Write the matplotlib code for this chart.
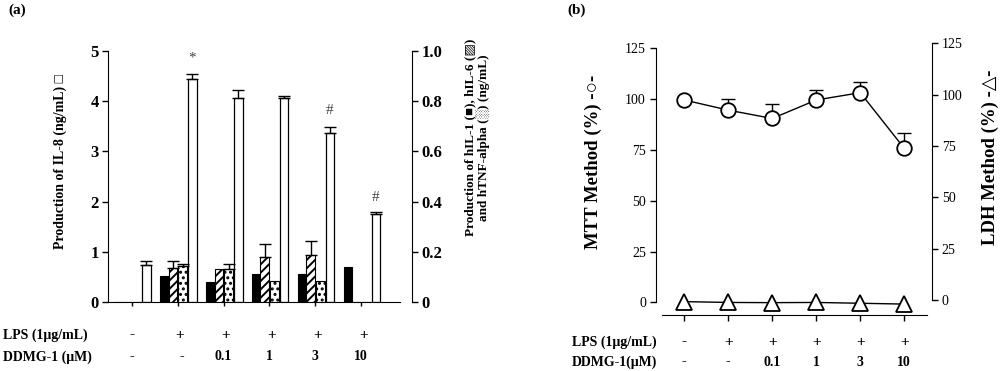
import numpy as np
import matplotlib
matplotlib.use("Agg")
import matplotlib.pyplot as plt
from matplotlib.transforms import blended_transform_factory

plt.rcParams['font.family'] = ['Liberation Serif', 'DejaVu Sans']
plt.rcParams['hatch.linewidth'] = 1.4

# ---- data, panel (a) ----
lps_labels = ['-', '+', '+', '+', '+', '+']
ddmg_labels = ['-', '-', '0.1', '1', '3', '10']

il8 = [0.74, 4.44, 4.06, 4.06, 3.36, 1.75]          # ng/mL, left axis
il8_err = [0.08, 0.09, 0.17, 0.05, 0.13, 0.05]
il1 = [0.0, 0.105, 0.080, 0.113, 0.113, 0.142]       # ng/mL, right axis
il6 = [0.0, 0.137, 0.131, 0.181, 0.188, 0.0]
il6_err = [0, 0.027, 0, 0.051, 0.056, 0]
tnf = [0.0, 0.146, 0.131, 0.085, 0.085, 0.0]
tnf_err = [0, 0.006, 0.022, 0, 0, 0]
marks = {1: ('*', 4.85), 4: ('#', 3.82), 5: ('#', 2.09)}

# ---- data, panel (b) ----
mtt = [99.6, 94.6, 90.5, 99.6, 103.2, 75.8]          # %, left axis
mtt_err = [0, 5.3, 7.1, 4.9, 5.4, 7.4]
ldh = [-0.8, -1.2, -1.3, -1.2, -1.6, -2.0]           # %, right axis


def upper_err(ax, x, y, err, capsize, color='black'):
    # only the upper half of the error bar is drawn in the figure
    x = np.asarray(x, float)
    y = np.asarray(y, float)
    err = np.asarray(err, float)
    keep = err > 0
    ax.errorbar(x[keep], y[keep], yerr=[np.zeros(keep.sum()), err[keep]],
                fmt='none', ecolor=color, elinewidth=1.0, capsize=capsize,
                capthick=1.0, zorder=3)


fig = plt.figure(figsize=(10, 3.71), dpi=100)
bold = dict(fontweight='bold')

# ================= panel (a) =================
ax = fig.add_axes([0.1083, 0.1852, 0.3034, 0.6935])
ax2 = ax.twinx()
x = np.arange(len(il8))
w = 0.19
off = [-0.29, -0.10, 0.11, 0.32]

ax2.bar(x + off[0], il1, w, color='black', edgecolor='black', linewidth=0.8)
ax2.bar(x + off[1], il6, w, color='white', edgecolor='black', linewidth=0.8, hatch='////')
ax2.bar(x + off[2], tnf, w, color='white', edgecolor='black', linewidth=0.8, hatch='...')
ax.bar(x + off[3], il8, w, color='white', edgecolor='black', linewidth=0.9)
upper_err(ax2, x + off[1], il6, il6_err, 4)
upper_err(ax2, x + off[2], tnf, tnf_err, 4)
upper_err(ax, x + off[3], il8, il8_err, 4)
for i, (sym, yv) in marks.items():
    ax.text(x[i] + off[3], yv, sym, ha='center', va='center', fontsize=11,
            color='#444444')

ax.set_xlim(-0.51, 6.1)
ax.set_ylim(0, 5.115)
ax2.set_ylim(0, 1.023)
ax.set_yticks([0, 1, 2, 3, 4, 5])
ax2.set_yticks([0, 0.2, 0.4, 0.6, 0.8, 1.0])
ax2.set_yticklabels(['0', '0.2', '0.4', '0.6', '0.8', '1.0'])
ax.set_xticks(x)
ax.set_xticklabels([])
for a in (ax, ax2):
    a.spines['top'].set_visible(False)
ax.spines['right'].set_visible(False)
ax2.spines['left'].set_visible(False)
ax2.spines['bottom'].set_visible(False)
ax.spines['left'].set_bounds(0, 5)
ax.spines['bottom'].set_bounds(-0.51, 5.85)
ax2.spines['right'].set_bounds(0, 1.0)
ax.tick_params(axis='y', length=4, width=1, pad=3, labelsize=12)
ax.tick_params(axis='x', length=3, width=1)
ax2.tick_params(axis='y', length=4, width=1, pad=3, labelsize=12)
for lab in ax.get_yticklabels() + ax2.get_yticklabels():
    lab.set_fontweight('bold')

fig.text(0.060, 0.566, 'Production of IL-8 (ng/mL) □', rotation=90,
         ha='center', va='center', fontsize=10, **bold)
fig.text(0.477, 0.630, 'Production of hIL-1 (■), hIL-6 (▨)\nand hTNF-alpha (░) (ng/mL)',
         rotation=90, ha='center', va='center', fontsize=9.5,
         multialignment='center', linespacing=0.95, **bold)
fig.text(0.008, 0.972, '(a)', ha='left', va='center', fontsize=11, **bold)

tr_a = blended_transform_factory(ax.transData, fig.transFigure)
fig.text(0.003, 0.097, 'LPS (1μg/mL)', ha='left', va='center', fontsize=10, **bold)
fig.text(0.003, 0.038, 'DDMG-1 (μM)', ha='left', va='center', fontsize=10, **bold)
for i in range(len(x)):
    ax.text(x[i] + (0.05 if i > 0 else 0), 0.097, lps_labels[i], transform=tr_a,
            ha='center', va='center', fontsize=11, **bold)
    ax.text(x[i] + (0.1 if i == 1 else 0), 0.038, ddmg_labels[i], transform=tr_a,
            ha='center', va='center', fontsize=10, **bold)

# ================= panel (b) =================
bx = fig.add_axes([0.6557, 0.151, 0.2763, 0.741])
bx2 = bx.twinx()
xb = np.arange(len(mtt))

upper_err(bx, xb, mtt, mtt_err, 5)
bx.plot(xb, mtt, '-', color='black', lw=1.0, marker='o', markersize=10.5,
        markerfacecolor='white', markeredgecolor='black', markeredgewidth=1.3,
        zorder=4, clip_on=False)
bx2.plot(xb, ldh, '-', color='black', lw=1.0, marker='^', markersize=11,
         markerfacecolor='white', markeredgecolor='black', markeredgewidth=1.3,
         zorder=4, clip_on=False)

bx.set_xlim(-0.65, 5.63)
bx.set_ylim(-6.25, 129.1)
bx2.set_ylim(-7.3, 126.5)
bx.set_yticks([0, 25, 50, 75, 100, 125])
bx2.set_yticks([0, 25, 50, 75, 100, 125])
bx.set_xticks(xb)
bx.set_xticklabels([])
for a in (bx, bx2):
    a.spines['top'].set_visible(False)
bx.spines['right'].set_visible(False)
bx2.spines['left'].set_visible(False)
bx2.spines['bottom'].set_visible(False)
bx.spines['left'].set_bounds(0, 125)
bx.spines['bottom'].set_bounds(-0.51, 5.51)
bx2.spines['right'].set_bounds(0, 125)
bx.tick_params(axis='y', length=4, width=1, pad=3, labelsize=10)
bx.tick_params(axis='x', length=4, width=1)
bx2.tick_params(axis='y', length=4, width=1, pad=3, labelsize=10)

fig.text(0.593, 0.563, 'MTT Method (%) -○-', rotation=90, ha='center',
         va='center', fontsize=13.5, **bold)
fig.text(0.990, 0.575, 'LDH Method (%) -△-', rotation=90, ha='center',
         va='center', fontsize=13.5, **bold)
fig.text(0.567, 0.972, '(b)', ha='left', va='center', fontsize=11, **bold)

tr_b = blended_transform_factory(bx.transData, fig.transFigure)
fig.text(0.572, 0.078, 'LPS (1μg/mL)', ha='left', va='center', fontsize=10, **bold)
fig.text(0.572, 0.024, 'DDMG-1(μM)', ha='left', va='center', fontsize=10, **bold)
for i in range(len(xb)):
    bx.text(xb[i], 0.078, lps_labels[i], transform=tr_b, ha='center', va='center',
            fontsize=11, **bold)
    bx.text(xb[i], 0.024, ddmg_labels[i], transform=tr_b, ha='center', va='center',
            fontsize=10, **bold)

fig.savefig('out.png', dpi=100)
